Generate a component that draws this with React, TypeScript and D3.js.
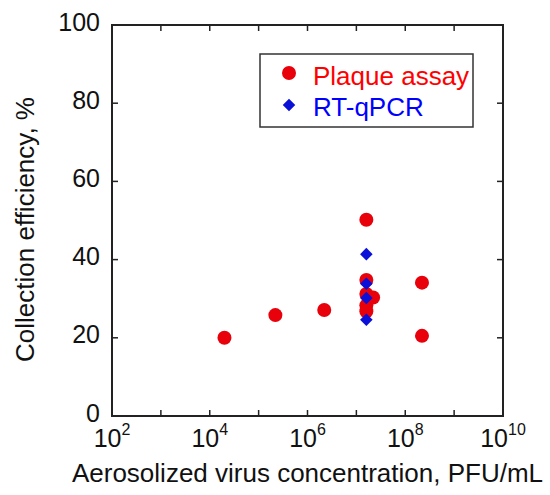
import React from 'react';
import * as d3 from 'd3';

// values
const plaqueConc = [2.0e4, 2.2e5, 2.2e6, 1.6e7, 1.6e7, 1.6e7, 1.6e7, 1.6e7, 2.2e7, 2.2e8, 2.2e8];
const plaqueEff = [20.0, 25.8, 27.1, 50.2, 34.8, 31.2, 28.3, 26.8, 30.3, 34.1, 20.5];
const pcrConc = [1.6e7, 1.6e7, 1.6e7, 1.6e7];
const pcrEff = [41.4, 33.8, 30.2, 24.6];

const xTickExp = [2, 3, 4, 5, 6, 7, 8, 9, 10];
const xLabelExp = [2, 4, 6, 8, 10];
const yTicks = [0, 20, 40, 60, 80, 100];
const legendItems = ['Plaque assay', 'RT-qPCR'];

const W = 550, H = 495;
const margin = { top: 25, right: 47, bottom: 79, left: 112 };
const font = '"Liberation Sans", Arial, sans-serif';
const axisColor = '#222';
const red = '#e8000a';
const blue = '#0a10d8';

export default function App() {
  const x = d3.scaleLog().domain([1e2, 1e10]).range([margin.left, W - margin.right]);
  const y = d3.scaleLinear().domain([0, 100]).range([H - margin.bottom, margin.top]);
  const [x0, x1] = x.range();
  const [y0, y1] = y.range();
  const tick = 6;

  const diamond = d3.symbol().type(d3.symbolDiamond2).size(100)();

  return (
    <div style={{ position: 'absolute', left: 0, top: 0 }}>
      <svg width={W} height={H} style={{ display: 'block', background: '#fff' }} fontFamily={font}>
        {/* ticks */}
        {xTickExp.map(e => (
          <g key={'xt' + e} stroke={axisColor} strokeWidth={1.5}>
            <line x1={x(10 ** e)} x2={x(10 ** e)} y1={y0} y2={y0 - tick} />
            <line x1={x(10 ** e)} x2={x(10 ** e)} y1={y1} y2={y1 + tick} />
          </g>
        ))}
        {yTicks.map(v => (
          <g key={'yt' + v} stroke={axisColor} strokeWidth={1.5}>
            <line x1={x0} x2={x0 + tick} y1={y(v)} y2={y(v)} />
            <line x1={x1} x2={x1 - tick} y1={y(v)} y2={y(v)} />
          </g>
        ))}
        <rect x={x0} y={y1} width={x1 - x0} height={y0 - y1} fill="none" stroke={axisColor} strokeWidth={2} />

        {/* tick labels */}
        {yTicks.map(v => (
          <text key={'yl' + v} x={x0 - 12} y={y(v) + 5.5} textAnchor="end" fontSize={25} fill="#111">{v}</text>
        ))}
        {xLabelExp.map(e => (
          <text key={'xl' + e} x={x(10 ** e)} y={y0 + 31} textAnchor="middle" fontSize={25} fill="#111">
            10<tspan fontSize={16} dy={-12}>{e}</tspan>
          </text>
        ))}

        {/* axis titles */}
        <text x={(x0 + x1) / 2} y={482} textAnchor="middle" fontSize={26} fill="#111">
          Aerosolized virus concentration, PFU/mL
        </text>
        <text transform={`translate(34,${(y0 + y1) / 2 + 9}) rotate(-90)`} textAnchor="middle" fontSize={26} fill="#111">
          Collection efficiency, %
        </text>

        {/* data */}
        {plaqueConc.map((c, i) => (
          <circle key={'p' + i} cx={x(c)} cy={y(plaqueEff[i])} r={7} fill={red} />
        ))}
        {pcrConc.map((c, i) => (
          <path key={'q' + i} d={diamond} transform={`translate(${x(c)},${y(pcrEff[i])})`} fill={blue} />
        ))}

        {/* legend */}
        <rect x={260} y={54} width={213} height={73} fill="#fff" stroke="#333" strokeWidth={1.5} />
        <circle cx={289} cy={73} r={7} fill={red} />
        <path d={diamond} transform="translate(289,105)" fill={blue} />
        <text x={313} y={85} fontSize={26} fill="#ff0000">{legendItems[0]}</text>
        <text x={313} y={116} fontSize={26} fill="#0000ff">{legendItems[1]}</text>
      </svg>
    </div>
  );
}
